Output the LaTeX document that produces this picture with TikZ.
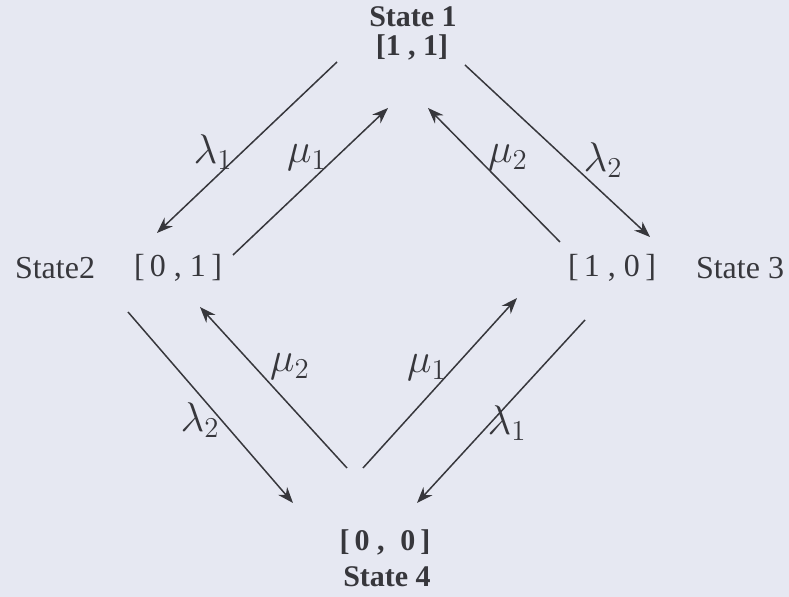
\documentclass[tikz,border=0pt]{standalone}
\usepackage{fontspec}
\setmainfont{Liberation Serif}
\usetikzlibrary{arrows.meta}
\definecolor{paper}{RGB}{230,232,242}
\definecolor{ink}{RGB}{55,55,60}
\tikzset{
  statebf/.style = {font=\fontsize{15}{16}\selectfont\bfseries, text=ink, inner sep=0pt},
  staterm/.style = {font=\fontsize{16}{18}\selectfont, text=ink, inner sep=1pt},
  rate/.style = {font=\fontsize{20}{22}\selectfont, text=ink, inner sep=1pt},
  trans/.style = {draw=ink, line width=0.75pt, -{Stealth[length=8pt,width=6pt]}}
}
\begin{document}
\begin{tikzpicture}[x = 0.5pt, y = -0.5pt]
\fill[paper] (0,0) rectangle (789,597);
\useasboundingbox (0,0) rectangle (789,597);
% states
\node[statebf] (s1t) at (413,17) {State 1};
\node[statebf] (s1) at (412,47) {[1 , 1]};
\node[staterm] (s2t) at (55,268) {State2};
\node[staterm] (s2) at (178,268) {[\,0 , 1\,]};
\node[staterm] (s3) at (612,268) {[\,1 , 0\,]};
\node[staterm] (s3t) at (740,268) {State 3};
\node[statebf] (s4) at (385,542) {[\,0 ,\; 0\,]};
\node[statebf] (s4t) at (387,577) {State 4};
% arrow ends
\foreach \n/\x/\y in {a1/337/62, a2/157/233, b1/233/255, b2/388/108,
                      c1/560/242, c2/428/108, d1/465/65, d2/650/237,
                      e1/128/312, e2/293/503, f1/347/468, f2/200/307,
                      g1/363/468, g2/517/298, h1/585/320, h2/417/503}
{
\coordinate (\n) at (\x,\y);
}
\foreach \p/\q in {a1/a2, b1/b2, c1/c2, d1/d2, e1/e2, f1/f2, g1/g2, h1/h2}
{
\draw[trans] (\p) -- (\q);
}
% rates
\node[rate] (la) at (213,152) {$\lambda_1$};
\node[rate] (lb) at (307,158) {$\mu_1$};
\node[rate] (lc) at (508,158) {$\mu_2$};
\node[rate] (ld) at (603,160) {$\lambda_2$};
\node[rate] (le) at (200,420) {$\lambda_2$};
\node[rate] (lf) at (290,367) {$\mu_2$};
\node[rate] (lg) at (427,368) {$\mu_1$};
\node[rate] (lh) at (507,423) {$\lambda_1$};
\end{tikzpicture}
\end{document}
